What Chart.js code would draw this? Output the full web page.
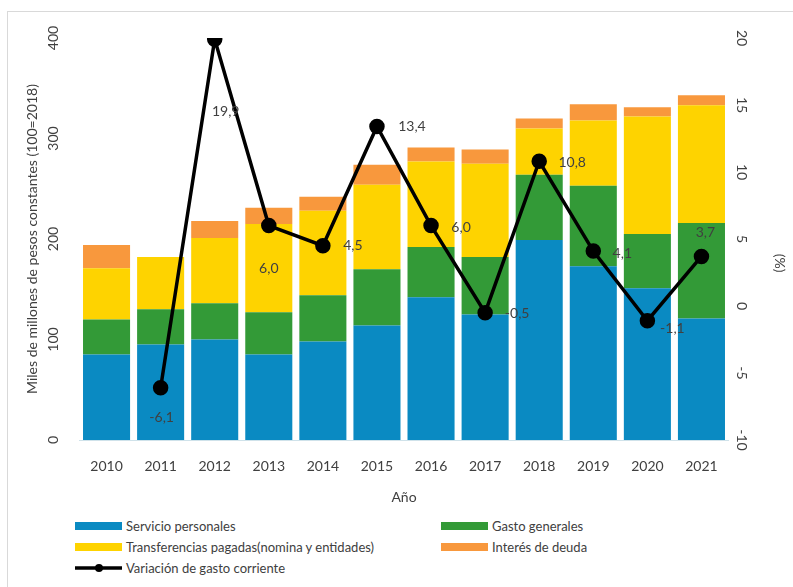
<!DOCTYPE html>
<html>
<head>
<meta charset="utf-8">
<script src="https://cdn.jsdelivr.net/npm/chart.js@4"></script>
<style>
  html, body { margin: 0; padding: 0; background: #fff; overflow: hidden; }
  #frame { position: absolute; left: 7px; top: 11px; width: 900px; height: 700px; border: 1px solid #d9d9d9; }
  #wrap { position: absolute; left: 0; top: 0; width: 793px; height: 506px; }
  #legend { position: absolute; left: 0; top: 515px; width: 793px; font-family: Lato, sans-serif; font-size: 13px; color: #404040; }
  .item { position: absolute; height: 16px; line-height: 16px; white-space: nowrap; }
  .sw { position: absolute; left: 0; top: 4px; width: 47px; height: 8px; }
  .txt { position: absolute; left: 51px; top: 0; }
</style>
</head>
<body>
<div id="frame"></div>
<div id="wrap"><canvas id="chart"></canvas></div>
<div id="legend"></div>
<script>
const years = ['2010', '2011', '2012', '2013', '2014', '2015', '2016', '2017', '2018', '2019', '2020', '2021'];
const servicioPersonales = [85, 95, 100, 85, 98, 114, 142, 125, 199, 173, 151, 121];
const gastoGenerales = [35, 35, 36, 42, 46, 56, 50, 57, 65, 80, 54, 95];
const transferencias = [51, 52, 65, 88, 84, 84, 85, 93, 46, 65, 117, 117];
const interesDeuda = [23, 0, 17, 16, 14, 20, 14, 14, 10, 16, 9, 10];
const variacionGasto = [null, -6.1, 19.9, 6.0, 4.5, 13.4, 6.0, -0.5, 10.8, 4.1, -1.1, 3.7];
const leftTicks = [0, 100, 200, 300, 400];
const rightTicks = [-10, -5, 0, 5, 10, 15, 20];

// where each value label sits relative to its point (px)
const labelOffsets = [null, [1, 30], [11, 72], [0, 43], [30, 0], [35, 0], [30, 2], [32, 1], [33, 1], [29, 2], [25, 8], [4, -24]];

const colors = {
    servicio: '#0a8ac2',
    gasto: '#339a37',
    transf: '#fed300',
    interes: '#f8983d',
    line: '#000000'
};

const fontFamily = 'Lato, sans-serif';
const textColor = '#404040';

const fmt = v => v.toFixed(1).replace('.', ',');

// rotated tick labels, right axis title and value labels for the line
const customText = {
    id: 'customText',
    afterDraw(chart) {
        const ctx = chart.ctx;
        const y = chart.scales.y;
        const y1 = chart.scales.y1;
        ctx.save();
        ctx.fillStyle = textColor;
        ctx.font = '14px ' + fontFamily;
        ctx.textAlign = 'center';
        ctx.textBaseline = 'middle';
        leftTicks.forEach(t => {
            ctx.save();
            ctx.translate(53, y.getPixelForValue(t));
            ctx.rotate(-Math.PI / 2);
            ctx.fillText(String(t), 0, 0);
            ctx.restore();
        });
        rightTicks.forEach(t => {
            ctx.save();
            ctx.translate(742, y1.getPixelForValue(t));
            ctx.rotate(Math.PI / 2);
            ctx.fillText(String(t), 0, 0);
            ctx.restore();
        });
        ctx.save();
        ctx.translate(780, y1.getPixelForValue(3.2));
        ctx.rotate(Math.PI / 2);
        ctx.fillText('(%)', 0, 0);
        ctx.restore();
        const meta = chart.getDatasetMeta(4);
        meta.data.forEach((pt, i) => {
            const v = variacionGasto[i];
            if (v === null) return;
            const off = labelOffsets[i];
            ctx.fillText(fmt(v), pt.x + off[0], pt.y + off[1]);
        });
        ctx.restore();
    }
};

const chart = new Chart(document.getElementById('chart'), {
    type: 'bar',
    data: {
        labels: years,
        datasets: [
            { label: 'Servicio personales', data: servicioPersonales, backgroundColor: colors.servicio, order: 1, yAxisID: 'y' },
            { label: 'Gasto generales', data: gastoGenerales, backgroundColor: colors.gasto, order: 1, yAxisID: 'y' },
            { label: 'Transferencias pagadas(nomina y entidades)', data: transferencias, backgroundColor: colors.transf, order: 1, yAxisID: 'y' },
            { label: 'Interés de deuda', data: interesDeuda, backgroundColor: colors.interes, order: 1, yAxisID: 'y' },
            {
                type: 'line',
                label: 'Variación de gasto corriente',
                data: variacionGasto,
                borderColor: colors.line,
                backgroundColor: colors.line,
                borderWidth: 3.5,
                pointRadius: 6,
                pointHoverRadius: 6,
                tension: 0,
                order: 0,
                yAxisID: 'y1'
            }
        ]
    },
    options: {
        responsive: true,
        maintainAspectRatio: false,
        animation: false,
        layout: {
            padding: { left: 20, right: 1, top: 38, bottom: 0 }
        },
        datasets: {
            bar: { barPercentage: 0.87, categoryPercentage: 1.0 }
        },
        scales: {
            x: {
                stacked: true,
                grid: { display: false },
                border: { color: '#cfe2ea' },
                ticks: { color: textColor, font: { family: fontFamily, size: 14 }, padding: 10 },
                title: {
                    display: true,
                    text: 'Año',
                    color: textColor,
                    font: { family: fontFamily, size: 14 },
                    padding: { top: 2, bottom: 0 }
                },
                afterFit: scale => { scale.height = 66; }
            },
            y: {
                stacked: true,
                min: 0,
                max: 400,
                grid: { display: false },
                border: { display: false },
                ticks: { stepSize: 100, display: false },
                title: {
                    display: true,
                    text: 'Miles de millones de pesos constantes (100=2018)',
                    color: textColor,
                    font: { family: fontFamily, size: 14 },
                    padding: { top: 4, bottom: 0 }
                },
                afterFit: scale => { scale.width = 59.5; }
            },
            y1: {
                position: 'right',
                stacked: false,
                min: -10,
                max: 20,
                grid: { display: false },
                border: { display: false },
                ticks: { stepSize: 5, display: false },
                title: { display: false },
                afterFit: scale => { scale.width = 63.5; }
            }
        },
        plugins: {
            legend: { display: false },
            tooltip: { enabled: false }
        }
    },
    plugins: [customText]
});

// legend in two columns like the original
const legendSpots = [[75, 3], [441, 3], [75, 24], [441, 24], [75, 45]];
const legendEl = document.getElementById('legend');
chart.data.datasets.forEach((ds, i) => {
    const item = document.createElement('div');
    item.className = 'item';
    item.style.left = legendSpots[i][0] + 'px';
    item.style.top = legendSpots[i][1] + 'px';
    if (ds.type === 'line') {
        item.innerHTML = '<svg width="48" height="16" style="position:absolute;left:0;top:0">' +
            '<line x1="0" y1="8" x2="47" y2="8" stroke="#000" stroke-width="3.5"/>' +
            '<circle cx="24" cy="8" r="4" fill="#000"/></svg>';
    } else {
        item.innerHTML = '<span class="sw" style="background:' + ds.backgroundColor + '"></span>';
    }
    const t = document.createElement('span');
    t.className = 'txt';
    t.textContent = ds.label;
    item.appendChild(t);
    legendEl.appendChild(item);
});
</script>
</body>
</html>
